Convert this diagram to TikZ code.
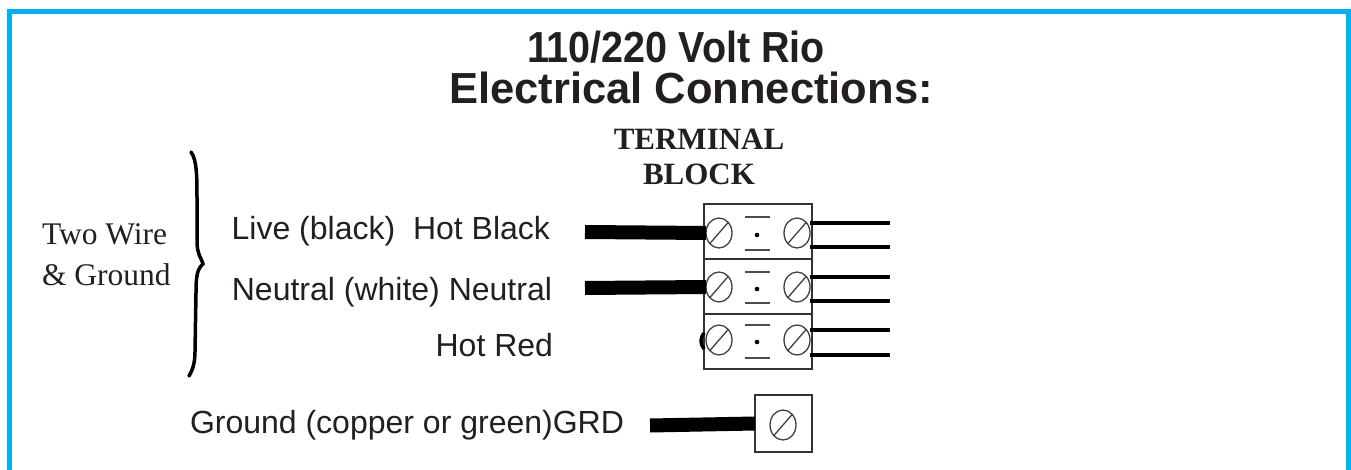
\documentclass[tikz,border=0pt]{standalone}
\usepackage{fontspec}
\setmainfont{Liberation Serif}
\setsansfont{Liberation Sans}
\usepackage{xcolor}
\usetikzlibrary{shapes.geometric}
\definecolor{framecyan}{RGB}{0,176,240}
\definecolor{ink}{RGB}{35,31,32}

\begin{document}
\begin{tikzpicture}[x=1pt, y=-1pt,
  every node/.style={inner sep=0pt, outer sep=0pt, text=ink},
  title/.style={font=\sffamily\bfseries\fontsize{43.5}{48}\selectfont, anchor=base},
  tbhead/.style={font=\rmfamily\bfseries\fontsize{31}{35}\selectfont, anchor=base},
  lbl/.style={font=\sffamily\fontsize{32}{38}\selectfont, anchor=base east},
  side/.style={font=\rmfamily\fontsize{31.5}{35}\selectfont, anchor=base west},
  cell/.style={rectangle, draw=black!80, line width=1.4pt, minimum width=108pt, minimum height=55pt},
  gcell/.style={rectangle, draw=black!80, line width=1.4pt, minimum width=57pt, minimum height=57pt},
  screw/.style={ellipse, draw=black!75, line width=1.3pt, minimum width=26pt, minimum height=30pt},
  wire/.style={line width=14pt},
  lead/.style={line width=4.5pt},
  brace/.style={line width=3.5pt, line cap=round}]

\useasboundingbox (0,0) rectangle (1351,470);

% Frame
\draw[framecyan, line width=5pt] (9.5,470) -- (9.5,11.5) -- (1348.5,11.5) -- (1348.5,470);

% Titles
\node[title, font=\sffamily\bfseries\fontsize{39.5}{44}\selectfont] (t1) at (676,63) {\scalebox{1}[1.1]{110/220 Volt Rio}};
\node[title] (t2) at (691,104) {Electrical Connections:};
\node[tbhead] (tb1) at (699,150) {TERMINAL};
\node[tbhead] (tb2) at (699,185) {BLOCK};

% Left side
\node[side] (two) at (42,245) {Two Wire};
\node[side] (gnd) at (42,285) {\& Ground};
\coordinate (br1) at (191,152);
\coordinate (brtip) at (203,264);
\coordinate (br2) at (189,376);
\draw[brace] (br1) .. controls (197,160) and (197,177) .. (197,202) -- (197,241)
  .. controls (197,255) and (202,259) .. (brtip)
  .. controls (197,269) and (196,277) .. (196,293) -- (195,352)
  .. controls (195,364) and (192,371) .. (br2);

% Labels
\node[lbl] (live) at (550,240) {Live (black)\ \ Hot Black};
\node[lbl] (neut) at (552,300) {Neutral (white) Neutral};
\node[lbl] (red) at (553,356) {Hot Red};
\node[font=\sffamily\fontsize{32}{38}\selectfont, anchor=base west] (grd) at (190,433) {Ground (copper or green)GRD};

% Terminal block
\node[cell] (c1) at (758,231.5) {};
\node[cell] (c2) at (758,286.5) {};
\node[cell] (c3) at (758,341.5) {};
\node[gcell] (c4) at (783.5,423.5) {};

% Screws
\node[screw] (s1l) at (719,233) {};
\node[screw] (s1r) at (797,233) {};
\node[screw] (s2l) at (719,287) {};
\node[screw] (s2r) at (797,287) {};
\node[screw] (s3l) at (719,340) {};
\node[screw] (s3r) at (797,340) {};
\node[screw] (s4) at (783,425) {};
\draw[black!75, line width=1.3pt] (s1l.south west) -- (s1l.north east);
\draw[black!75, line width=1.3pt] (s1r.south west) -- (s1r.north east);
\draw[black!75, line width=1.3pt] (s2l.south west) -- (s2l.north east);
\draw[black!75, line width=1.3pt] (s2r.south west) -- (s2r.north east);
\draw[black!75, line width=1.3pt] (s3l.south west) -- (s3l.north east);
\draw[black!75, line width=1.3pt] (s3r.south west) -- (s3r.north east);
\draw[black!75, line width=1.3pt] (s4.south west) -- (s4.north east);

% Dots and marks
\fill (757,235) circle (2.3pt);
\fill (757,289) circle (2.3pt);
\fill (757,342) circle (2.3pt);
\draw[black!70, line width=1.2pt] (745,217) -- (770,217);
\draw[black!70, line width=1.2pt] (745,250) -- (770,250);
\draw[black!70, line width=1.2pt] (745,272) -- (770,272);
\draw[black!70, line width=1.2pt] (745,303) -- (770,303);
\draw[black!70, line width=1.2pt] (745,325) -- (770,325);
\draw[black!70, line width=1.2pt] (745,358) -- (770,358);

% Wires in
\coordinate (w1) at (585,232);
\coordinate (w2) at (585,288);
\coordinate (w4) at (650,425.5);
\draw[wire] (w1) -- (s1l.west);
\draw[wire] (w2) -- (s2l.west);
\draw[wire] (w4) -- (c4.west);
\coordinate (st1) at (704,333);
\coordinate (st2) at (704,349);
\draw[line width=3.5pt] (st1) .. controls (700,338) and (700,344) .. (st2);

% Wires out
\coordinate (o1) at (890,223);
\coordinate (o2) at (890,247);
\coordinate (o3) at (890,277);
\coordinate (o4) at (890,301);
\coordinate (o5) at (890,330);
\coordinate (o6) at (890,355);
\draw[lead] (810,223) -- (o1);
\draw[lead] (810,247) -- (o2);
\draw[lead] (810,277) -- (o3);
\draw[lead] (810,301) -- (o4);
\draw[lead] (810,330) -- (o5);
\draw[lead] (810,355) -- (o6);
\end{tikzpicture}
\end{document}
